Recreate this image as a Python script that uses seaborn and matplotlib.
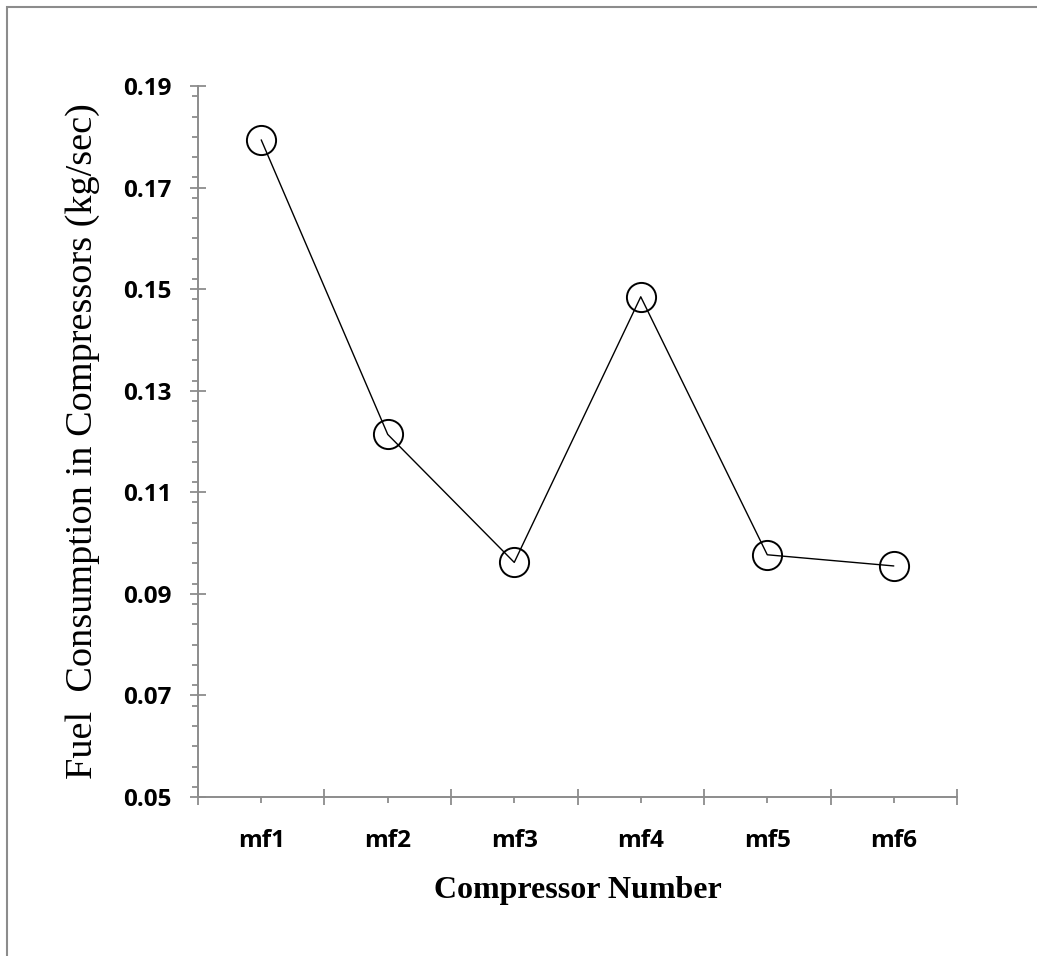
import matplotlib
matplotlib.use("Agg")
import matplotlib.pyplot as plt
import matplotlib.patches as mpatches
from matplotlib.ticker import MultipleLocator, FixedLocator
import seaborn as sns
import pandas as pd

compressors = ["mf1", "mf2", "mf3", "mf4", "mf5", "mf6"]
fuel = [0.1794, 0.1214, 0.0962, 0.1485, 0.0977, 0.0955]

y_ticks = [0.05, 0.07, 0.09, 0.11, 0.13, 0.15, 0.17, 0.19]

AXIS_GRAY = "#8c8c8c"

sns.set_style("white")

df = pd.DataFrame({"compressor": compressors, "fuel": fuel})

fig = plt.figure(figsize=(10.37, 9.56), dpi=100)
ax = fig.add_axes([0.1909, 0.1663, 0.9229 - 0.1909, 0.9100 - 0.1663])

sns.lineplot(data=df, x="compressor", y="fuel", ax=ax, sort=False,
             color="black", linewidth=1.0, marker="o", markersize=21,
             markerfacecolor="none", markeredgecolor="black",
             markeredgewidth=1.4)

ax.set_xlim(-0.5, len(compressors) - 0.5)
ax.set_ylim(0.05, 0.19)

# y axis: major ticks crossing the axis, minor ticks outside
ax.yaxis.set_major_locator(FixedLocator(y_ticks))
ax.yaxis.set_minor_locator(MultipleLocator(0.004))
ax.set_yticklabels([f"{t:.2f}" for t in y_ticks])
ax.tick_params(axis="y", which="major", direction="inout", length=11.5,
               width=1.3, color=AXIS_GRAY, pad=13, left=True)
ax.tick_params(axis="y", which="minor", direction="out", length=4.5,
               width=1.3, color=AXIS_GRAY, left=True)

# x axis: labels at category centres, long ticks between categories
ax.set_xticks(range(len(compressors)))
ax.set_xticklabels(compressors)
ax.xaxis.set_minor_locator(FixedLocator([i - 0.5 for i in range(len(compressors) + 1)]))
ax.tick_params(axis="x", which="major", direction="out", length=4.3,
               width=1.3, color=AXIS_GRAY, pad=19, bottom=True)
ax.tick_params(axis="x", which="minor", direction="inout", length=12,
               width=1.3, color=AXIS_GRAY, bottom=True)

for lab in ax.get_xticklabels() + ax.get_yticklabels():
    lab.set_fontfamily("Open Sans")
    lab.set_fontweight("bold")
    lab.set_fontsize(17.5)
    lab.set_color("black")

for side in ["top", "right"]:
    ax.spines[side].set_visible(False)
for side in ["left", "bottom"]:
    ax.spines[side].set_color(AXIS_GRAY)
    ax.spines[side].set_linewidth(1.4)

ax.set_ylabel("Fuel  Consumption in Compressors (kg/sec)",
              fontfamily="Liberation Serif", fontsize=27.5, labelpad=17,
              color="black")
ax.set_xlabel("Compressor Number", fontfamily="Liberation Serif",
              fontweight="bold", fontsize=23, labelpad=16, color="black")

# outer chart frame (top and left edges visible)
frame = mpatches.Rectangle((7 / 1037, -0.05), 1.2, 1 - 7 / 956 + 0.05,
                           transform=fig.transFigure, fill=False,
                           edgecolor=AXIS_GRAY, linewidth=1.5,
                           clip_on=False)
fig.add_artist(frame)

fig.savefig("out.png", dpi=100)
